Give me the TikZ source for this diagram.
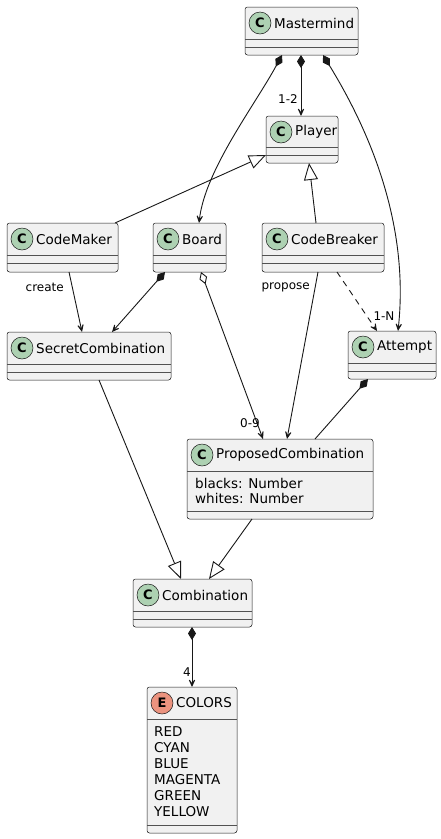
\documentclass[tikz,border=0pt]{standalone}
\usepackage{fontspec}
\setmainfont{DejaVu Sans}
\usetikzlibrary{arrows.meta,calc}
\definecolor{boxfill}{HTML}{F1F1F1}
\definecolor{boxline}{HTML}{181818}
\definecolor{cgreen}{HTML}{ADD1B2}
\definecolor{ered}{HTML}{EB937F}
\tikzset{
  cls/.style={draw=boxline, fill=boxfill, rounded corners=2.5pt, line width=0.5pt, inner sep=0pt, outer sep=0pt, anchor=north west},
  badge/.style={circle, draw=boxline, line width=0.5pt, minimum size=22pt, inner sep=0pt, font=\fontsize{13}{13}\selectfont\bfseries},
  titletext/.style={anchor=west, inner sep=0pt, font=\fontsize{13.5}{16}\selectfont},
  itemtext/.style={anchor=west, inner sep=0pt, font=\fontsize{13.5}{16}\selectfont},
  sepline/.style={draw=boxline!75, line width=0.5pt},
  edge/.style={draw=boxline, line width=0.9pt},
  lbl/.style={inner sep=0pt, font=\fontsize{12}{14}\selectfont},
  comptip/.tip={Diamond[length=13pt,width=8pt]},
  aggrtip/.tip={Diamond[length=13pt,width=8pt,fill=white]},
  opentip/.tip={Stealth[length=11pt,width=10pt,inset=7pt]},
  inhtip/.tip={Triangle[length=17pt,width=14pt,fill=white]},
}
\newcommand\umlcls[8]{%
  \node[cls, minimum width={(#4-#2)*1pt}, minimum height={(#5-#3)*1pt}] (#1) at (#2,#3) {};
  \node[badge, fill=#7] (#1-badge) at (#2+15,#3+16) {#6};
  \node[titletext] (#1-title) at (#2+29,#3+16) {#8};
}
\newcommand\twosep[1]{%
  \draw[sepline] ($(#1.north west)+(0,32)$) -- ($(#1.north east)+(0,32)$);
  \draw[sepline] ($(#1.north west)+(0,40)$) -- ($(#1.north east)+(0,40)$);
}
\begin{document}
\begin{tikzpicture}[x=1pt,y=-1pt]
\fill[white] (0,0) rectangle (441,839);
\useasboundingbox (0,0) rectangle (441,839);

% classes
\umlcls{mm}{245}{7}{358}{55}{C}{cgreen}{Mastermind}
\twosep{mm}
\umlcls{player}{266}{116}{338}{163}{C}{cgreen}{Player}
\draw[sepline] ($(player.north west)+(0,31)$) -- ($(player.north east)+(0,31)$);
\draw[sepline] ($(player.north west)+(0,39)$) -- ($(player.north east)+(0,39)$);
\umlcls{codemaker}{7}{223}{118}{272}{C}{cgreen}{CodeMaker}
\twosep{codemaker}
\umlcls{board}{153}{223}{226}{272}{C}{cgreen}{Board}
\twosep{board}
\umlcls{codebreaker}{262}{223}{384}{272}{C}{cgreen}{CodeBreaker}
\twosep{codebreaker}
\umlcls{secret}{7}{332}{171}{380}{C}{cgreen}{SecretCombination}
\twosep{secret}
\umlcls{attempt}{348}{331}{436}{379}{C}{cgreen}{Attempt}
\twosep{attempt}
\umlcls{proposed}{187}{439}{373}{519}{C}{cgreen}{ProposedCombination}
\draw[sepline] ($(proposed.north west)+(0,32)$) -- ($(proposed.north east)+(0,32)$);
\draw[sepline] ($(proposed.north west)+(0,72)$) -- ($(proposed.north east)+(0,72)$);
\node[itemtext] (pc-a1) at (195,483) {blacks: Number};
\node[itemtext] (pc-a2) at (195,498) {whites: Number};
\umlcls{combination}{133}{579}{252}{627}{C}{cgreen}{Combination}
\twosep{combination}
\umlcls{colors}{147}{687}{237}{833}{E}{ered}{COLORS}
\draw[sepline] ($(colors.north west)+(0,32)$) -- ($(colors.north east)+(0,32)$);
\draw[sepline] ($(colors.north west)+(0,138)$) -- ($(colors.north east)+(0,138)$);
\node[itemtext] (c1) at (154,732) {RED};
\node[itemtext] (c2) at (154,748) {CYAN};
\node[itemtext] (c3) at (154,764) {BLUE};
\node[itemtext] (c4) at (154,780) {MAGENTA};
\node[itemtext] (c5) at (154,796) {GREEN};
\node[itemtext] (c6) at (154,812) {YELLOW};

% connectors
\draw[edge, comptip-opentip] ($(mm.south west)+(56,0)$) -- ($(player.north west)+(35,0)$);
\node[lbl] (l12) at ($(player.north west)+(22,-17)$) {1-2};

\draw[edge, comptip-opentip] ($(mm.south west)+(37,0)$) .. controls (255,105) and (205,170) .. ($(board.north west)+(46,0)$);

\draw[edge, comptip-opentip] ($(mm.south west)+(78,0)$) .. controls (366,125) and (410,220) .. ($(attempt.north west)+(50,0)$);
\node[lbl] (l1n) at ($(attempt.north west)+(36,-15)$) {1-N};

\draw[edge, -inhtip] ($(codemaker.north west)+(108,0)$) -- ($(player.south west)+(0,-8)$);
\draw[edge, -inhtip] ($(codebreaker.north west)+(54,0)$) -- ($(player.south west)+(43,0)$);

\draw[edge, -opentip] ($(codemaker.south west)+(62,0)$) -- ($(secret.north west)+(75,0)$);
\node[lbl, anchor=east] (lcreate) at ($(codemaker.south west)+(57,15)$) {create};

\draw[edge, comptip-opentip] ($(board.south west)+(12,0)$) -- ($(secret.north west)+(105,0)$);

\draw[edge, aggrtip-opentip] ($(board.south west)+(48,0)$) -- ($(proposed.north west)+(76,0)$);
\node[lbl] (l09) at ($(proposed.north west)+(63,-16)$) {0-9};

\draw[edge, -opentip] ($(codebreaker.south west)+(56,0)$) -- ($(proposed.north west)+(100,0)$);
\node[lbl, anchor=east] (lpropose) at ($(codebreaker.south west)+(48,15)$) {propose};

\draw[edge, dashed, dash pattern=on 6pt off 5pt, -opentip] ($(codebreaker.south west)+(75,0)$) -- ($(attempt.north west)+(29,0)$);

\draw[edge, comptip-] ($(attempt.south west)+(20,0)$) -- ($(proposed.north west)+(128,0)$);

\draw[edge, -inhtip] ($(secret.south west)+(92,0)$) -- ($(combination.north west)+(48,0)$);
\draw[edge, -inhtip] ($(proposed.south west)+(65,0)$) -- ($(combination.north west)+(76,0)$);

\draw[edge, comptip-opentip] ($(combination.south west)+(59,0)$) -- ($(colors.north west)+(45,0)$);
\node[lbl] (l4) at ($(colors.north west)+(40,-15)$) {4};
\end{tikzpicture}
\end{document}
